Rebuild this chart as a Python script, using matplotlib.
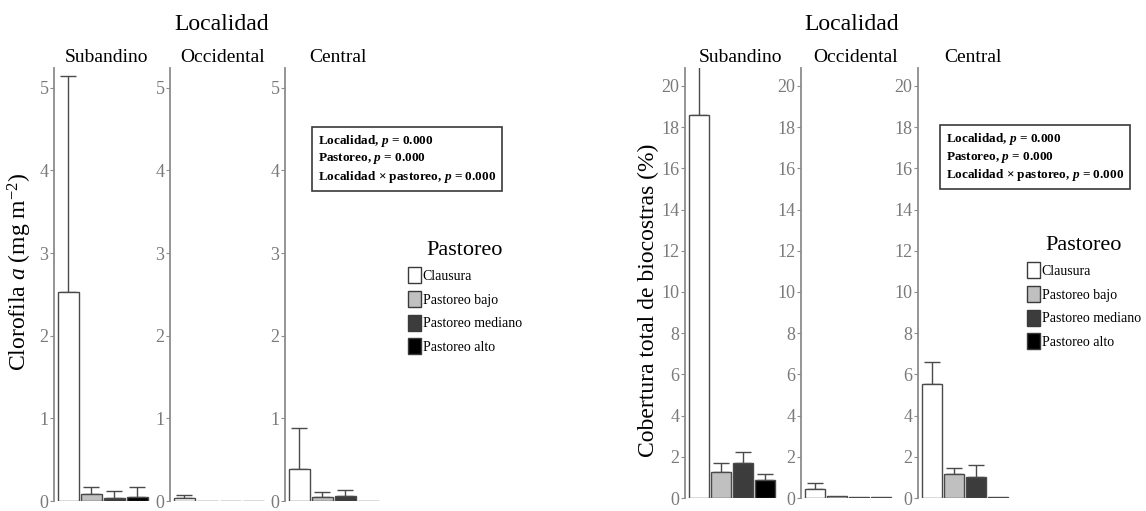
import matplotlib
matplotlib.use("Agg")
import matplotlib.pyplot as plt
from matplotlib.patches import Patch

plt.rcParams['font.family'] = ['Liberation Serif', 'DejaVu Serif']
plt.rcParams['mathtext.fontset'] = 'custom'
plt.rcParams['mathtext.rm'] = 'Liberation Serif'
plt.rcParams['mathtext.it'] = 'Liberation Serif:italic'
plt.rcParams['mathtext.bf'] = 'Liberation Serif:bold'
plt.rcParams['mathtext.bfit'] = 'Liberation Serif:italic:bold'

# Datos
localidades = ['Subandino', 'Occidental', 'Central']
pastoreo = ['Clausura', 'Pastoreo bajo', 'Pastoreo mediano', 'Pastoreo alto']
colores = ['#ffffff', '#c0c0c0', '#3c3c3c', '#000000']

# Clorofila a (mg m-2): media y error (solo hacia arriba)
clor_subandino = [2.53, 0.09, 0.04, 0.05]
clor_subandino_ee = [2.61, 0.08, 0.08, 0.12]
clor_occidental = [0.035, 0.005, 0.004, 0.004]
clor_occidental_ee = [0.035, 0, 0, 0]
clor_central = [0.39, 0.05, 0.06, 0.005]
clor_central_ee = [0.49, 0.06, 0.07, 0]

# Cobertura total de biocostras (%)
cob_subandino = [18.6, 1.26, 1.70, 0.87]
cob_subandino_ee = [2.6, 0.44, 0.53, 0.30]
cob_occidental = [0.44, 0.08, 0.04, 0.04]
cob_occidental_ee = [0.29, 0, 0, 0]
cob_central = [5.53, 1.17, 1.02, 0.06]
cob_central_ee = [1.07, 0.28, 0.58, 0]

W, H = 1146, 511
fig = plt.figure(figsize=(W / 100, H / 100), dpi=100)

gris = '#8c8c8c'
gris_txt = '#7a7a7a'


def panel(x0, ancho, ybot, ytop, medias, errores, ymax, ticks, barw=0.92):
    ax = fig.add_axes([x0 / W, (H - ybot) / H, ancho / W, (ybot - ytop) / H])
    pos = list(range(len(medias)))
    ax.bar(pos, medias, width=barw, color=colores, edgecolor='#4a4a4a', linewidth=1.0, zorder=2)
    for p, m, e in zip(pos, medias, errores):
        if e > 0:
            ax.errorbar(p, m, yerr=[[0], [e]], fmt='none', ecolor='#4a4a4a',
                        elinewidth=1.0, capsize=6, capthick=1.0, zorder=1)
    ax.set_xlim(-0.62, 3.55)
    ax.set_ylim(0, ymax)
    ax.set_yticks(ticks)
    ax.set_xticks([])
    for s in ['top', 'right', 'bottom']:
        ax.spines[s].set_visible(False)
    ax.spines['left'].set_color(gris)
    ax.spines['left'].set_linewidth(1.3)
    ax.tick_params(axis='y', colors=gris, labelcolor=gris_txt, length=3, width=0.8,
                   labelsize=13, pad=1)
    ax.patch.set_alpha(0)
    return ax


# Gráfico izquierdo: clorofila
izq_x = [54, 170, 285]
izq_datos = [(clor_subandino, clor_subandino_ee),
             (clor_occidental, clor_occidental_ee),
             (clor_central, clor_central_ee)]
for x0, (m, e), nombre in zip(izq_x, izq_datos, localidades):
    panel(x0, 96, 501, 68, m, e, 5.24, [0, 1, 2, 3, 4, 5])
    fig.text((x0 + 53) / W, 1 - 57 / H, nombre, ha='center', va='center', fontsize=14)
fig.text(222 / W, 1 - 24 / H, 'Localidad', ha='center', va='center', fontsize=17)
fig.text(20 / W, 1 - 272 / H, r'Clorofila $\mathit{a}$ (mg m$^{-2}$)', rotation=90,
         ha='center', va='center', fontsize=17)

# Gráfico derecho: cobertura
der_x = [685, 801, 918]
der_datos = [(cob_subandino, cob_subandino_ee),
             (cob_occidental, cob_occidental_ee),
             (cob_central, cob_central_ee)]
for x0, (m, e), nombre in zip(der_x, der_datos, localidades):
    panel(x0, 92, 498, 68, m, e, 20.87, list(range(0, 21, 2)))
    fig.text((x0 + 55) / W, 1 - 57 / H, nombre, ha='center', va='center', fontsize=14)
fig.text(852 / W, 1 - 24 / H, 'Localidad', ha='center', va='center', fontsize=17)
fig.text(648 / W, 1 - 300 / H, 'Cobertura total de biocostras (%)', rotation=90,
         ha='center', va='center', fontsize=17)

# Cajas con resultados del ANOVA
texto = ('Localidad, $\\mathbfit{p}$ = 0.000\n'
         'Pastoreo, $\\mathbfit{p}$ = 0.000\n'
         'Localidad × pastoreo, $\\mathbfit{p}$ = 0.000')
for xt, yt in [(318, 133), (946, 131)]:
    fig.text(xt / W, 1 - yt / H, texto, ha='left', va='top', fontsize=9.5,
             fontweight='bold', linespacing=1.25,
             bbox=dict(boxstyle='square,pad=0.45', fc='white', ec='#3a3a3a', lw=1.2))

# Leyendas
handles = [Patch(facecolor=c, edgecolor='#3a3a3a', linewidth=1.0, label=l)
           for c, l in zip(colores, pastoreo)]
for xl, yl in [(398, 231), (1017, 226)]:
    fig.legend(handles=handles, loc='upper left', bbox_to_anchor=(xl / W, 1 - yl / H),
               frameon=False, title='Pastoreo', fontsize=10, title_fontsize=16,
               handlelength=0.95, handleheight=1.4, handletextpad=0.12,
               labelspacing=0.55, borderpad=0.2)

fig.savefig('out.png', dpi=100, facecolor='white')
